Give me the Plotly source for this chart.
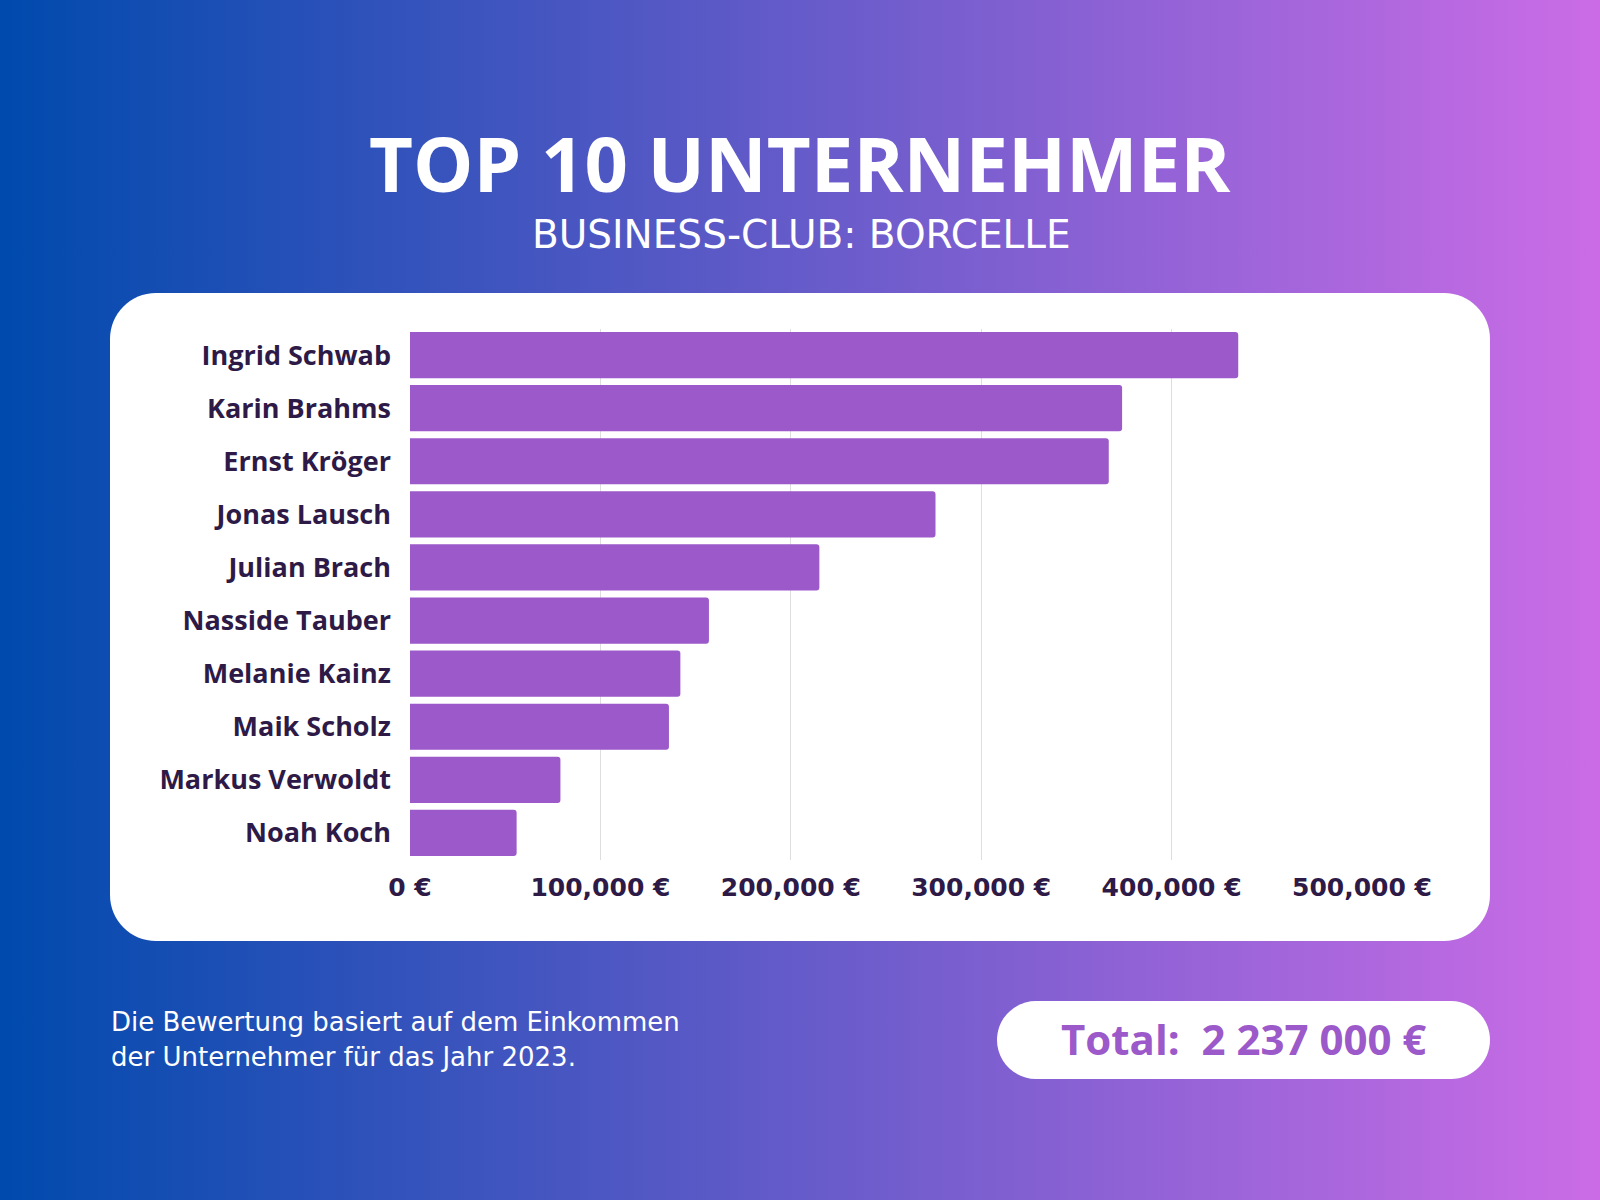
import base64
import plotly.graph_objects as go

# ---- data ----
names = ["Ingrid Schwab", "Karin Brahms", "Ernst Kröger", "Jonas Lausch", "Julian Brach",
         "Nasside Tauber", "Melanie Kainz", "Maik Scholz", "Markus Verwoldt", "Noah Koch"]
income = [435000, 374000, 367000, 276000, 215000, 157000, 142000, 136000, 79000, 56000]
tick_values = [0, 100000, 200000, 300000, 400000, 500000]
tick_labels = ["0 €", "100,000 €", "200,000 €", "300,000 €", "400,000 €", "500,000 €"]
title_text = "TOP 10 UNTERNEHMER"
subtitle_text = "BUSINESS-CLUB: BORCELLE"
footer_lines = ["Die Bewertung basiert auf dem Einkommen", "der Unternehmer für das Jahr 2023."]
total_text = "Total:  2 237 000 €"

W, H = 1600, 1200
DARK = "#2e1a47"
BAR = "#9b59c9"


def px(x):
    return x / W


def py(y):
    return 1 - y / H


def rounded_rect(x0, y0, x1, y1, r):
    k = 0.5523 * r

    def P(x, y):
        return f"{px(x):.6f},{py(y):.6f}"
    d = f"M {P(x0 + r, y0)} L {P(x1 - r, y0)} "
    d += f"C {P(x1 - r + k, y0)} {P(x1, y0 + r - k)} {P(x1, y0 + r)} "
    d += f"L {P(x1, y1 - r)} "
    d += f"C {P(x1, y1 - r + k)} {P(x1 - r + k, y1)} {P(x1 - r, y1)} "
    d += f"L {P(x0 + r, y1)} "
    d += f"C {P(x0 + r - k, y1)} {P(x0, y1 - r + k)} {P(x0, y1 - r)} "
    d += f"L {P(x0, y0 + r)} "
    d += f"C {P(x0, y0 + r - k)} {P(x0 + r - k, y0)} {P(x0 + r, y0)} Z"
    return d


svg = ('<svg xmlns="http://www.w3.org/2000/svg" width="1600" height="1200" preserveAspectRatio="none">'
       '<defs><linearGradient id="g" x1="0" y1="0" x2="1" y2="0">'
       '<stop offset="0" stop-color="#004aad"/><stop offset="1" stop-color="#cb6ce6"/>'
       '</linearGradient></defs><rect width="1600" height="1200" fill="url(#g)"/></svg>')
bg_uri = "data:image/svg+xml;base64," + base64.b64encode(svg.encode()).decode()

fig = go.Figure(go.Bar(
    x=income, y=names, orientation="h",
    marker=dict(color=BAR, line=dict(width=0)),
    hoverinfo="skip",
))

fig.update_layout(
    template="none",
    width=W, height=H,
    autosize=False,
    margin=dict(l=0, r=0, t=0, b=0, pad=0),
    paper_bgcolor="#6a5bcd",
    plot_bgcolor="rgba(0,0,0,0)",
    showlegend=False,
    bargap=0.13,
    barcornerradius=3,
    images=[dict(source=bg_uri, xref="paper", yref="paper", x=0, y=1, sizex=1, sizey=1,
                 sizing="stretch", layer="below", xanchor="left", yanchor="top")],
    shapes=[
        dict(type="path", xref="paper", yref="paper", layer="below",
             path=rounded_rect(110, 293, 1490, 941, 46), fillcolor="white", line=dict(width=0)),
        dict(type="path", xref="paper", yref="paper", layer="below",
             path=rounded_rect(997, 1001, 1490, 1079, 39), fillcolor="white", line=dict(width=0)),
    ],
    xaxis=dict(
        domain=[px(410), px(1362)], range=[0, 500000],
        tickvals=tick_values, ticktext=tick_labels,
        showgrid=True, gridcolor="#dedede", gridwidth=1.2,
        zeroline=False, showline=False, ticks="",
        tickfont=dict(family="DejaVu Sans", size=25, color=DARK, weight="bold"),
        ticklabelstandoff=10, fixedrange=True, automargin=False,
    ),
    yaxis=dict(
        domain=[py(859.5), py(328.5)],
        categoryorder="array", categoryarray=names, autorange="reversed",
        showgrid=False, zeroline=False, showline=False, ticks="",
        tickfont=dict(family="Open Sans", size=27, color=DARK, weight="bold"),
        ticklabelstandoff=18, fixedrange=True, automargin=False,
    ),
    annotations=[
        dict(text=title_text, x=px(800), y=py(162), xref="paper", yref="paper",
             showarrow=False, xanchor="center", yanchor="middle",
             font=dict(family="Open Sans", size=76, color="white", weight="bold")),
        dict(text=subtitle_text, x=px(801), y=py(235), xref="paper", yref="paper",
             showarrow=False, xanchor="center", yanchor="middle",
             font=dict(family="DejaVu Sans", size=39, color="white")),
        dict(text=footer_lines[0], x=px(109), y=py(1022), xref="paper", yref="paper",
             showarrow=False, xanchor="left", yanchor="middle",
             font=dict(family="DejaVu Sans", size=26, color="white")),
        dict(text=footer_lines[1], x=px(109), y=py(1057), xref="paper", yref="paper",
             showarrow=False, xanchor="left", yanchor="middle",
             font=dict(family="DejaVu Sans", size=26, color="white")),
        dict(text=total_text, x=px(1243), y=py(1038), xref="paper", yref="paper",
             showarrow=False, xanchor="center", yanchor="middle",
             font=dict(family="Open Sans", size=42, color=BAR, weight="bold")),
    ],
)

fig.write_html("out.html", config={"displayModeBar": False},
               post_script="document.body.style.margin='0';")
